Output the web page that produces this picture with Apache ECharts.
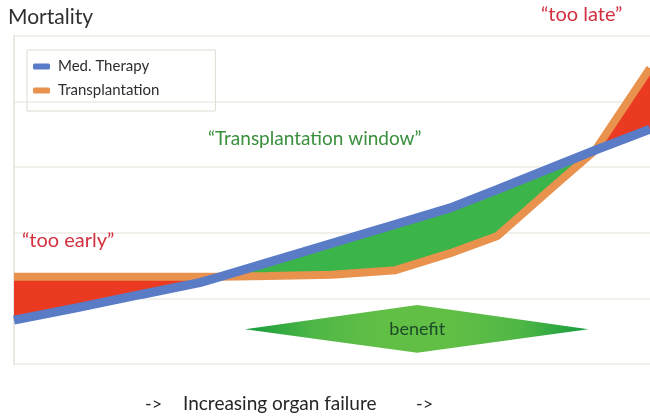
<!DOCTYPE html>
<html>
<head>
<meta charset="utf-8">
<script src="https://cdn.jsdelivr.net/npm/echarts@6/dist/echarts.min.js"></script>
<style>
  html, body { margin: 0; padding: 0; background: #fff; }
  #chart { width: 650px; height: 417px; }
</style>
</head>
<body>
<div id="chart"></div>
<script>
// Degree of organ failure (x) and mortality for each treatment strategy
const organFailure    = [0, 1, 2, 2.92, 3.24, 4, 5, 6, 6.86, 7.6, 8.5, 9.14, 10];
const medTherapy      = [0.67, 0.86, 1.06, 1.24, 1.33, 1.55, 1.84, 2.13, 2.38, 2.66, 3.01, 3.26, 3.58];
const transplantation = [1.33, 1.33, 1.33, 1.33, 1.33, 1.34, 1.36, 1.43, 1.69, 1.95, 2.72, 3.26, 4.51];

// "benefit" diamond: [left x, right x, peak x, centre y, top y, bottom y]
const benefitShape = [3.63, 9.03, 6.34, 0.53, 0.90, 0.17];

const FONT = 'Lato, "Open Sans", sans-serif';
const RED = '#ea3b22';
const GREEN = '#3bb44a';

const pairs = (ys) => organFailure.map((x, i) => [x, ys[i]]);

// Split the gap between the curves into runs of constant sign
// (the curves cross exactly on sample points). Each run: [start, end, sign]
const runs = [];
for (let i = 0; i < organFailure.length - 1; i++) {
  const s = Math.sign((transplantation[i] - medTherapy[i]) + (transplantation[i + 1] - medTherapy[i + 1]));
  const last = runs[runs.length - 1];
  if (last && last[2] === s) last[1] = i + 1;
  else runs.push([i, i + 1, s]);
}

const chart = echarts.init(document.getElementById('chart'), null, { renderer: 'canvas' });

chart.setOption({
  animation: false,
  backgroundColor: '#ffffff',
  grid: { left: 14, right: 0, top: 36, bottom: 53, containLabel: false },
  xAxis: {
    type: 'value', min: 0, max: 10,
    axisLine: { show: false }, axisTick: { show: false },
    axisLabel: { show: false }, splitLine: { show: false }
  },
  yAxis: {
    type: 'value', min: 0, max: 5, interval: 1,
    axisLine: { show: true, lineStyle: { color: '#e3e1d7', width: 1.5 } },
    axisTick: { show: false }, axisLabel: { show: false },
    splitLine: { show: true, lineStyle: { color: '#ecebe3', width: 1.5 } }
  },
  legend: {
    orient: 'vertical', left: 27, top: 50,
    icon: 'roundRect', itemWidth: 17, itemHeight: 6, itemGap: 9,
    padding: [9, 56, 13, 6],
    borderColor: '#dddcd2', borderWidth: 1,
    textStyle: { fontFamily: FONT, fontSize: 15, color: '#2e2e2e', padding: [0, 0, 0, 3] },
    data: ['Med. Therapy', 'Transplantation']
  },
  graphic: [
    { type: 'text', left: 8, top: 7, z: 20,
      style: { text: 'Mortality', font: '21px ' + FONT, fill: '#2f2f2f' } },
    { type: 'text', left: 541, top: 5, z: 20,
      style: { text: '\u201ctoo late\u201d', font: '20px ' + FONT, fill: '#d3303f' } },
    { type: 'text', left: 22, top: 231, z: 20,
      style: { text: '\u201ctoo early\u201d', font: '20px ' + FONT, fill: '#d3303f' } },
    { type: 'text', left: 208, top: 129, z: 20,
      style: { text: '\u201cTransplantation window\u201d', font: '19px ' + FONT, fill: '#3a8f3c' } },
    { type: 'text', left: 145, top: 395, z: 20,
      style: { text: '->', font: '18px ' + FONT, fill: '#262626' } },
    { type: 'text', left: 183, top: 394, z: 20,
      style: { text: 'Increasing organ failure', font: '19px ' + FONT, fill: '#262626' } },
    { type: 'text', left: 416, top: 395, z: 20,
      style: { text: '->', font: '18px ' + FONT, fill: '#262626' } }
  ],
  series: [
    { name: 'band', type: 'custom', z: 1, silent: true,
      data: runs,
      encode: { x: [], y: [] },
      renderItem: function (params, api) {
        const start = api.value(0), end = api.value(1), sign = api.value(2);
        const pts = [];
        for (let i = start; i <= end; i++) pts.push(api.coord([organFailure[i], medTherapy[i]]));
        for (let i = end; i >= start; i--) pts.push(api.coord([organFailure[i], transplantation[i]]));
        const c = sign > 0 ? RED : GREEN;
        return { type: 'polygon', shape: { points: pts }, style: { fill: c } };
      }
    },
    { name: 'Transplantation', type: 'line', data: pairs(transplantation), symbol: 'none',
      itemStyle: { color: '#e8924e' }, lineStyle: { color: '#e8924e', width: 8 }, z: 3 },
    { name: 'Med. Therapy', type: 'line', data: pairs(medTherapy), symbol: 'none',
      itemStyle: { color: '#5a7cc7' }, lineStyle: { color: '#5a7cc7', width: 9 }, z: 4 },
    { name: 'benefit', type: 'custom', z: 2,
      data: [benefitShape],
      encode: { x: [0, 1, 2], y: [3, 4, 5] },
      renderItem: function (params, api) {
        const l = api.coord([api.value(0), api.value(3)]);
        const r = api.coord([api.value(1), api.value(3)]);
        const t = api.coord([api.value(2), api.value(4)]);
        const b = api.coord([api.value(2), api.value(5)]);
        return {
          type: 'group',
          children: [
            { type: 'polygon', shape: { points: [l, t, r, b] },
              style: { fill: new echarts.graphic.LinearGradient(0, 0, 1, 0, [
                { offset: 0, color: '#169c3d' },
                { offset: 0.2, color: '#4fb746' },
                { offset: 0.4, color: '#62bf46' },
                { offset: 0.6, color: '#62bf46' },
                { offset: 0.8, color: '#4fb746' },
                { offset: 1, color: '#169c3d' }
              ]) } },
            { type: 'text', style: {
                text: 'benefit', x: t[0], y: l[1], align: 'center', verticalAlign: 'middle',
                font: '18px ' + FONT, fill: '#1d4a26' } }
          ]
        };
      }
    }
  ]
});
</script>
</body>
</html>
